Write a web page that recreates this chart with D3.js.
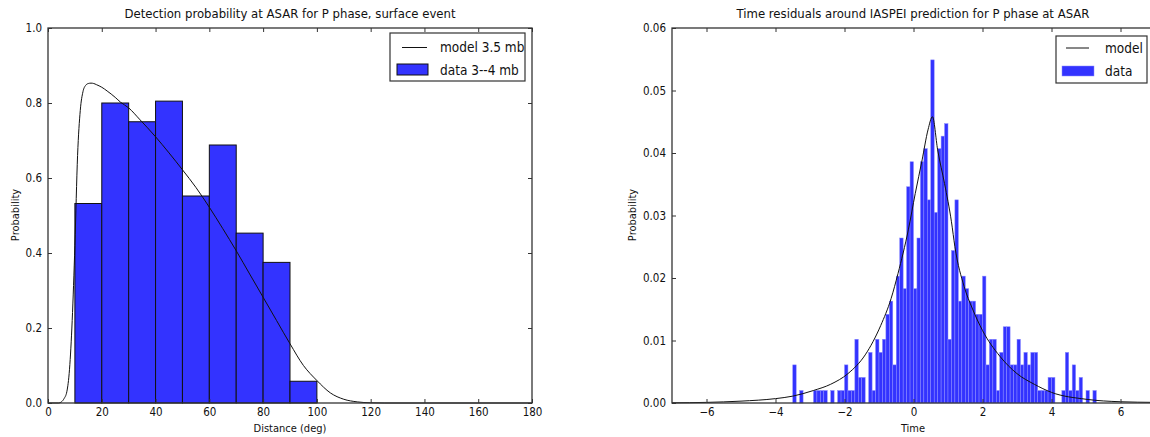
<!DOCTYPE html>
<html>
<head>
<meta charset="utf-8">
<script src="https://cdn.jsdelivr.net/npm/d3@7"></script>
<style>
  body { margin: 0; background: #fff; }
  text { font-family: "Liberation Sans Narrow", "DejaVu Sans Condensed", "Liberation Sans", sans-serif; fill: #111; }
</style>
</head>
<body>
<script>
var width = 1150,
  height = 437;

// left panel: detection histogram (10 deg bins) and model curve
var distBins = [10, 20, 30, 40, 50, 60, 70, 80, 90];
var distProb = [0.532, 0.80, 0.75, 0.805, 0.552, 0.688, 0.453, 0.375, 0.058];
var modelDist = [0, 4, 5, 6, 7, 8, 9, 10, 11, 12, 13, 14, 15, 16, 17, 18, 20, 22, 25, 27, 30, 34, 40, 45, 50, 55, 60, 65, 70, 75, 80, 85, 90, 95, 100, 105, 110, 115, 120, 125, 180];
var modelProb = [0, 0, 0.003, 0.012, 0.03, 0.09, 0.22, 0.42, 0.66, 0.78, 0.83, 0.847, 0.852, 0.853, 0.852, 0.849, 0.842, 0.832, 0.815, 0.802, 0.787, 0.757, 0.71, 0.667, 0.622, 0.575, 0.522, 0.465, 0.406, 0.344, 0.282, 0.22, 0.158, 0.1, 0.06, 0.027, 0.01, 0.003, 0.0005, 0, 0];
var distTicks = [0, 20, 40, 60, 80, 100, 120, 140, 160, 180];
var probTicks = [0, 0.2, 0.4, 0.6, 0.8, 1.0];

// right panel: time residual histogram (0.1 s bins, non-empty bins only) and model curve
var resBins = [-3.5, -3.3, -2.9, -2.8, -2.7, -2.6, -2.4, -2.2, -2.1, -2.0, -1.9, -1.8, -1.7, -1.6, -1.5,
  -1.3, -1.2, -1.1, -1.0, -0.9, -0.8, -0.7, -0.6, -0.5, -0.4, -0.3, -0.2, -0.1, 0.0, 0.1, 0.2, 0.3, 0.4,
  0.5, 0.6, 0.7, 0.8, 0.9, 1.0, 1.1, 1.2, 1.3, 1.4, 1.5, 1.6, 1.7, 1.8, 1.9, 2.0, 2.1, 2.2, 2.3, 2.4,
  2.5, 2.6, 2.7, 2.8, 2.9, 3.0, 3.1, 3.2, 3.3, 3.4, 3.5, 3.6, 3.7, 3.8, 3.9, 4.0, 4.3, 4.4, 4.5, 4.6,
  4.7, 4.8, 5.0, 5.2];
var resProb = [0.0061, 0.0020, 0.0020, 0.0020, 0.0020, 0.0020, 0.0020, 0.0020, 0.0020, 0.0061, 0.0020, 0.0020, 0.0102, 0.0041, 0.0041,
  0.0081, 0.0020, 0.0102, 0.0081, 0.0102, 0.0142, 0.0163, 0.0061, 0.0203, 0.0264, 0.0183, 0.0346, 0.0386, 0.0183, 0.0264, 0.0386, 0.0407, 0.0325,
  0.0549, 0.0305, 0.0407, 0.0427, 0.0447, 0.0102, 0.0244, 0.0325, 0.0163, 0.0203, 0.0183, 0.0163, 0.0163, 0.0142, 0.0142, 0.0203, 0.0061, 0.0102, 0.0102, 0.0020,
  0.0081, 0.0122, 0.0122, 0.0061, 0.0061, 0.0102, 0.0061, 0.0081, 0.0061, 0.0081, 0.0081, 0.0020, 0.0020, 0.0020, 0.0041, 0.0041, 0.0020, 0.0081, 0.0020, 0.0061,
  0.0020, 0.0041, 0.0020, 0.0020];
var modelTime = [-7, -6, -5, -4, -3.5, -2.9, -2.4, -1.9, -1.4, -0.95, -0.65, -0.45, -0.15, 0.05, 0.25, 0.42, 0.55, 0.7, 0.9, 1.1, 1.2, 1.47, 1.7, 2.0, 2.5, 3.0, 3.5, 4.0, 5.0, 6.0, 7.0];
var modelTimeProb = [0.00003, 0.0001, 0.0003, 0.0007, 0.0011, 0.002, 0.003, 0.0047, 0.0077, 0.0124, 0.0167, 0.0207, 0.0277, 0.0335, 0.0389, 0.0437, 0.0458, 0.0405, 0.0351, 0.029, 0.025, 0.0186, 0.0152, 0.0116, 0.0075, 0.0047, 0.003, 0.0017, 0.0006, 0.0002, 0.0001];
var timeTicks = [-6, -4, -2, 0, 2, 4, 6];
var resTicks = [0, 0.01, 0.02, 0.03, 0.04, 0.05, 0.06];

var svg = d3.select("body").append("svg")
  .attr("width", width)
  .attr("height", height);

var plotTop = 28, plotBottom = 403;

// draw frame + inward ticks on four sides
function frame(g, x, y, xTicks, yTicks, xFmt, yFmt) {
  var x0 = x.range()[0], x1 = x.range()[1];
  g.append("g").attr("transform", "translate(0," + plotBottom + ")")
    .call(d3.axisBottom(x).tickValues(xTicks).tickFormat(xFmt).tickSizeInner(-4).tickSizeOuter(0).tickPadding(5));
  g.append("g").attr("transform", "translate(0," + plotTop + ")")
    .call(d3.axisTop(x).tickValues(xTicks).tickFormat("").tickSizeInner(-4).tickSizeOuter(0));
  g.append("g").attr("transform", "translate(" + x0 + ",0)")
    .call(d3.axisLeft(y).tickValues(yTicks).tickFormat(yFmt).tickSizeInner(-4).tickSizeOuter(0).tickPadding(6));
  g.append("g").attr("transform", "translate(" + x1 + ",0)")
    .call(d3.axisRight(y).tickValues(yTicks).tickFormat("").tickSizeInner(-4).tickSizeOuter(0));
  g.selectAll(".domain").remove();
  g.selectAll(".tick line").attr("stroke", "#333");
  g.selectAll(".tick text").style("font-size", "11.5px").attr("fill", "#111");
  g.append("rect")
    .attr("x", x0).attr("y", plotTop)
    .attr("width", x1 - x0).attr("height", plotBottom - plotTop)
    .attr("fill", "none").attr("stroke", "#333").attr("stroke-width", 1.3);
}

// ---- left panel ----
var xL = d3.scaleLinear().domain([0, 180]).range([48, 532]);
var yL = d3.scaleLinear().domain([0, 1]).range([plotBottom, plotTop]);
var gL = svg.append("g");

gL.selectAll("rect.bar")
  .data(distBins)
  .enter()
  .append("rect")
  .attr("class", "bar")
  .attr("x", function (d) { return xL(d); })
  .attr("width", function (d) { return xL(d + 10) - xL(d); })
  .attr("y", function (d, i) { return yL(distProb[i]); })
  .attr("height", function (d, i) { return yL(0) - yL(distProb[i]); })
  .attr("fill", "#3333ff")
  .attr("stroke", "#111")
  .attr("stroke-width", 1);

var lineL = d3.line()
  .x(function (d) { return xL(d); })
  .y(function (d, i) { return yL(modelProb[i]); })
  .curve(d3.curveMonotoneX);

gL.append("path")
  .attr("d", lineL(modelDist))
  .attr("fill", "none")
  .attr("stroke", "#111")
  .attr("stroke-width", 1);

frame(gL, xL, yL, distTicks, probTicks, d3.format("d"), d3.format(".1f"));

gL.append("text").attr("x", 290).attr("y", 18).attr("text-anchor", "middle")
  .style("font-size", "13px").text("Detection probability at ASAR for P phase, surface event");
gL.append("text").attr("x", 290).attr("y", 432).attr("text-anchor", "middle")
  .style("font-size", "11px").text("Distance (deg)");
gL.append("text").attr("transform", "translate(19,215)rotate(-90)").attr("text-anchor", "middle")
  .style("font-size", "11px").text("Probability");

// legend
var legL = gL.append("g");
legL.append("rect").attr("x", 390).attr("y", 33).attr("width", 135).attr("height", 48)
  .attr("fill", "#fff").attr("stroke", "#333").attr("stroke-width", 1.2);
legL.append("line").attr("x1", 402).attr("x2", 427).attr("y1", 47.5).attr("y2", 47.5)
  .attr("stroke", "#111");
legL.append("text").attr("x", 440).attr("y", 47.5).attr("dy", "0.35em")
  .style("font-size", "13.5px").text("model 3.5 mb");
legL.append("rect").attr("x", 397).attr("y", 64).attr("width", 31).attr("height", 11)
  .attr("fill", "#3333ff").attr("stroke", "#111");
legL.append("text").attr("x", 440).attr("y", 70).attr("dy", "0.35em")
  .style("font-size", "13.5px").text("data 3--4 mb");

// ---- right panel ----
var xR = d3.scaleLinear().domain([-7, 7]).range([672, 1155]);
var yR = d3.scaleLinear().domain([0, 0.06]).range([plotBottom, plotTop]);
var gR = svg.append("g");

gR.selectAll("rect.bar")
  .data(resBins)
  .enter()
  .append("rect")
  .attr("class", "bar")
  .attr("x", function (d) { return xR(d); })
  .attr("width", function (d) { return xR(d + 0.1) - xR(d); })
  .attr("y", function (d, i) { return yR(resProb[i]); })
  .attr("height", function (d, i) { return yR(0) - yR(resProb[i]); })
  .attr("fill", "#3333ff")
  .attr("stroke", "#8c8cff")
  .attr("stroke-width", 0.5);

var lineR = d3.line()
  .x(function (d) { return xR(d); })
  .y(function (d, i) { return yR(modelTimeProb[i]); })
  .curve(d3.curveMonotoneX);

gR.append("path")
  .attr("d", lineR(modelTime))
  .attr("fill", "none")
  .attr("stroke", "#111")
  .attr("stroke-width", 1);

frame(gR, xR, yR, timeTicks, resTicks, d3.format("d"), d3.format(".2f"));

gR.append("text").attr("x", 913).attr("y", 18).attr("text-anchor", "middle")
  .style("font-size", "13px").text("Time residuals around IASPEI prediction for P phase at ASAR");
gR.append("text").attr("x", 913).attr("y", 432).attr("text-anchor", "middle")
  .style("font-size", "11px").text("Time");
gR.append("text").attr("transform", "translate(636,215)rotate(-90)").attr("text-anchor", "middle")
  .style("font-size", "11px").text("Probability");

var legR = gR.append("g");
legR.append("rect").attr("x", 1056).attr("y", 36).attr("width", 91).attr("height", 47)
  .attr("fill", "#fff").attr("stroke", "#333").attr("stroke-width", 1.2);
legR.append("line").attr("x1", 1066).attr("x2", 1089).attr("y1", 48).attr("y2", 48)
  .attr("stroke", "#111");
legR.append("text").attr("x", 1105).attr("y", 48).attr("dy", "0.35em")
  .style("font-size", "13.5px").text("model");
legR.append("rect").attr("x", 1062).attr("y", 66).attr("width", 32).attr("height", 10)
  .attr("fill", "#3333ff").attr("stroke", "#8c8cff").attr("stroke-width", 0.5);
legR.append("text").attr("x", 1105).attr("y", 71).attr("dy", "0.35em")
  .style("font-size", "13.5px").text("data");
</script>
</body>
</html>
